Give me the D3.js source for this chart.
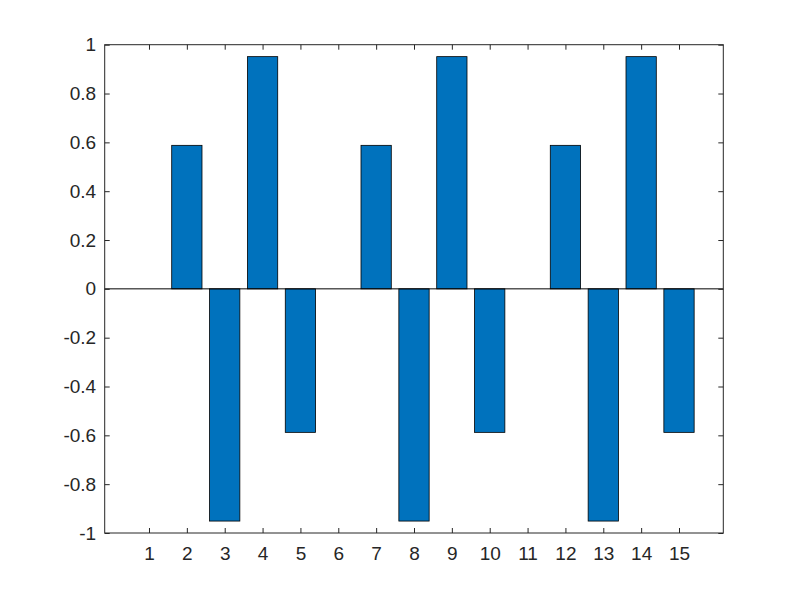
<!DOCTYPE html>
<html>
<head>
<meta charset="utf-8">
<script src="https://cdn.jsdelivr.net/npm/d3@7"></script>
<style>
  body { margin: 0; background: #fff; }
</style>
</head>
<body>
<div id="chart"></div>
<script>
// Chart data
var categories = [1, 2, 3, 4, 5, 6, 7, 8, 9, 10, 11, 12, 13, 14, 15];
var values = [0, 0.5878, -0.9511, 0.9511, -0.5878,
              0, 0.5878, -0.9511, 0.9511, -0.5878,
              0, 0.5878, -0.9511, 0.9511, -0.5878];
var yTicks = [-1, -0.8, -0.6, -0.4, -0.2, 0, 0.2, 0.4, 0.6, 0.8, 1];

var svgWidth = 800;
var svgHeight = 600;
var margin = { top: 44.7, right: 76.7, bottom: 67, left: 104.7 };
var chartWidth = svgWidth - margin.left - margin.right;
var chartHeight = svgHeight - margin.top - margin.bottom;

var svg = d3.select("#chart")
  .append("svg")
  .attr("width", svgWidth)
  .attr("height", svgHeight);

var chartGroup = svg.append("g")
  .attr("transform", `translate(${margin.left}, ${margin.top})`);

var xScale = d3.scaleLinear().domain([-0.17, 16.17]).range([0, chartWidth]);
var yScale = d3.scaleLinear().domain([-1, 1]).range([chartHeight, 0]);
var barWidth = 0.8;

// Bars
chartGroup.selectAll("rect.bar").data(values).enter().append("rect")
  .attr("class", "bar")
  .attr("x", (d, i) => xScale(categories[i] - barWidth / 2))
  .attr("width", xScale(barWidth) - xScale(0))
  .attr("y", d => yScale(Math.max(0, d)))
  .attr("height", d => Math.abs(yScale(d) - yScale(0)))
  .attr("fill", "#0072BD")
  .attr("stroke", "#000")
  .attr("stroke-width", 0.8);

// Baseline
chartGroup.append("line")
  .attr("x1", 0).attr("x2", chartWidth)
  .attr("y1", yScale(0)).attr("y2", yScale(0))
  .attr("stroke", "#000").attr("stroke-width", 1);

// Axes (ticks inward, mirrored on top/right)
var tickLen = 5;
function styleAxis(g) {
  g.attr("font-size", 19).attr("font-family", "'Liberation Sans', Arial, sans-serif");
  g.selectAll("path, line").attr("stroke", "#262626");
  g.selectAll("text").attr("fill", "#262626");
  g.select(".domain").remove();
}

var bottomAxis = d3.axisBottom(xScale).tickValues(categories).tickSizeInner(-tickLen).tickSizeOuter(0).tickPadding(14).tickFormat(d => String(d));
var leftAxis = d3.axisLeft(yScale).tickValues(yTicks).tickSizeInner(-tickLen).tickSizeOuter(0).tickPadding(8.5).tickFormat(d => String(+d.toFixed(1)));
var topAxis = d3.axisTop(xScale).tickValues(categories).tickSizeInner(-tickLen).tickSizeOuter(0).tickFormat("");
var rightAxis = d3.axisRight(yScale).tickValues(yTicks).tickSizeInner(-tickLen).tickSizeOuter(0).tickFormat("");

chartGroup.append("g").attr("transform", `translate(0, ${chartHeight})`).call(bottomAxis).call(styleAxis);
chartGroup.append("g").call(leftAxis).call(styleAxis);
chartGroup.append("g").call(topAxis).call(styleAxis);
chartGroup.append("g").attr("transform", `translate(${chartWidth}, 0)`).call(rightAxis).call(styleAxis);

// Box
chartGroup.append("rect")
  .attr("x", 0).attr("y", 0)
  .attr("width", chartWidth).attr("height", chartHeight)
  .attr("fill", "none")
  .attr("stroke", "#262626")
  .attr("stroke-width", 1);
</script>
</body>
</html>
